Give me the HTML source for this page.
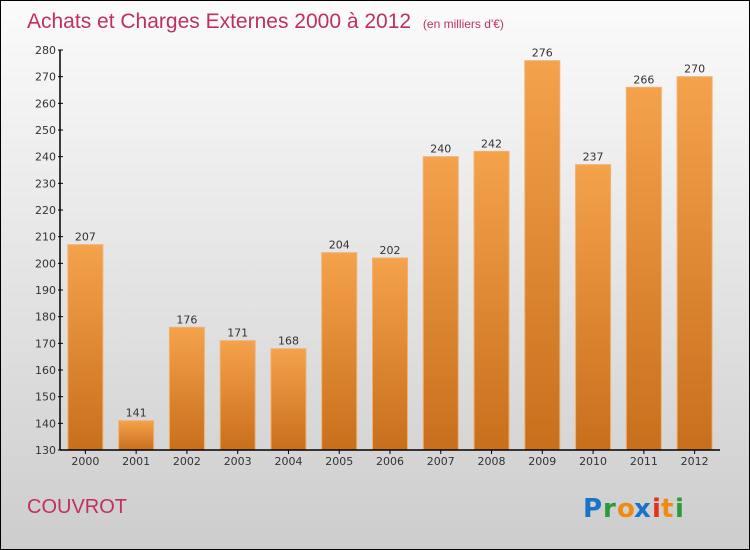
<!DOCTYPE html>
<html><head><meta charset="utf-8"><style>
body{margin:0}
#c{position:relative;width:748px;height:548px;border:1px solid #000;background:linear-gradient(#fbfbfb,#cdcdcd);overflow:hidden;font-family:"DejaVu Sans","Liberation Sans",sans-serif}
</style></head><body>
<div id="c">
<svg width="748" height="548" style="position:absolute;left:0;top:0" id="svg">
<defs><linearGradient id="bg" x1="0" y1="0" x2="0" y2="1"><stop offset="0" stop-color="#f5a24c"/><stop offset="1" stop-color="#c86f1c"/></linearGradient></defs>
<text x="26" y="27" font-size="21" fill="#c0305e" font-family="Liberation Sans, sans-serif">Achats et Charges Externes 2000 à 2012 <tspan font-size="12" dx="6">(en milliers d'€)</tspan></text>
<g id="plot"></g>
<text x="26" y="512" font-size="20" fill="#c0305e" font-family="Liberation Sans, sans-serif">COUVROT</text>
<g font-family="DejaVu Sans, sans-serif" font-size="26" font-weight="bold">
<text x="582" y="516" fill="#1a73c9">P</text><text x="602" y="516" fill="#2a9a3a">r</text><text x="616" y="516" fill="#f08a10">o</text><text x="633" y="516" fill="#1a73c9">x</text><text x="651" y="516" fill="#e53020">i</text><text x="660" y="516" fill="#f08a10">t</text><text x="674" y="516" fill="#2a9a3a">i</text>
</g>
</svg></div>
<script>
const years=["2000","2001","2002","2003","2004","2005","2006","2007","2008","2009","2010","2011","2012"];
const values=[207,141,176,171,168,204,202,240,242,276,237,266,270];
const yTicks=[130,140,150,160,170,180,190,200,210,220,230,240,250,260,270,280];
const NS="http://www.w3.org/2000/svg";
const g=document.getElementById('plot');
const y0=130,y1=280,topY=49,botY=449,left=59,right=719;
const ys=v=>botY-(v-y0)/(y1-y0)*(botY-topY);
const step=(right-left)/years.length;
const xs=i=>left+step*(i+0.5);
function mk(t,a){const e=document.createElementNS(NS,t);for(const k in a)e.setAttribute(k,a[k]);g.appendChild(e);return e;}
years.forEach((yr,i)=>{
 const r=mk('rect',{x:xs(i)-17.5,y:ys(values[i]),width:35,height:botY-ys(values[i]),fill:'url(#bg)',stroke:'#f3b070','stroke-width':1});
 
 
 const t=mk('text',{x:xs(i),y:ys(values[i])-4,'text-anchor':'middle','font-size':11,fill:'#333'});
 t.textContent=values[i];
 
 
 const xl=mk('text',{x:xs(i),y:botY+15,'text-anchor':'middle','font-size':11,fill:'#333'});
 xl.textContent=yr;
 
 
 const tk=mk('line',{x1:xs(i),x2:xs(i),y1:botY,y2:botY+4,stroke:'#000'});
 
 
});
yTicks.forEach(v=>{
 const l=mk('line',{x1:left-2,x2:left+3,y1:ys(v),y2:ys(v),stroke:'#000'});
 
 
 const t=mk('text',{x:left-4,y:ys(v)+4,'text-anchor':'end','font-size':11,fill:'#333'});
 t.textContent=v;
 
 
});
const ya=mk('line',{x1:left,x2:left,y1:topY,y2:botY,stroke:'#000','stroke-width':1.5});


const xa=mk('line',{x1:left,x2:right,y1:botY,y2:botY,stroke:'#000','stroke-width':1.5});


</script>
</body></html>
